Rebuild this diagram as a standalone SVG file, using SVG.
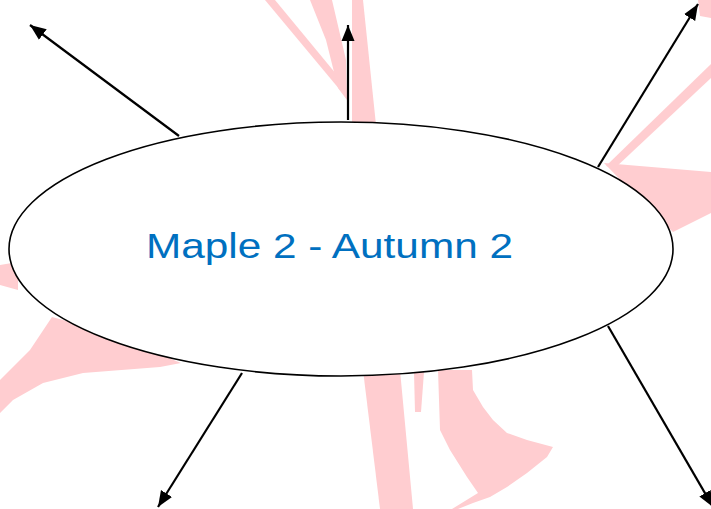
<svg xmlns="http://www.w3.org/2000/svg" width="711" height="509" viewBox="0 0 711 509">
<style>
.bg{fill:#FFCDD0;stroke:none}
.conn{stroke:#000;stroke-width:2.2;fill:none;marker-end:url(#ah)}
.node{fill:#fff;stroke:#000;stroke-width:1.6}
.lbl{font-family:"Liberation Sans","DejaVu Sans",sans-serif;font-size:35px;fill:#0070C0}
</style>
<defs>
<marker id="ah" markerUnits="userSpaceOnUse" markerWidth="17" markerHeight="14" viewBox="0 0 17 14" refX="16" refY="7" orient="auto">
<path d="M0,0.5 L16,7 L0,13.5 z" fill="#000"/>
</marker>
</defs>
<rect width="711" height="509" fill="#fff"/>
<g id="background">
<polygon class="bg" points="265,0 275,0 346,86 340,90"/>
<polygon class="bg" points="310,0 332,0 346,60 347,100 338,88 326,40"/>
<polygon class="bg" points="352,0 363,0 376,125 352,125"/>
<polygon class="bg" points="698,0 711,0 711,18 700,16"/>
<polygon class="bg" points="711,64 711,78 615,168 606,166"/>
<polygon class="bg" points="604,163 711,172 711,213 673,232 640,200"/>
<polygon class="bg" points="0,265 18,262 18,290 0,285"/>
<polygon class="bg" points="0,380 30,350 52,317 100,330 181,363 160,367 83,373 43,383 13,400 0,413"/>
<polygon class="bg" points="363,370 400,370 413,509 380,509"/>
<polygon class="bg" points="414,372 424,372 421,412 415,412"/>
<polygon class="bg" points="438,370 472,370 473,390 483,407 493,420 507,433 527,440 553,447 547,457 527,473 507,487 490,497 473,503 458,509 452,509 478,493 467,477 450,450 440,430"/>
</g>
<g id="connectors">
<line class="conn" x1="179" y1="136" x2="30" y2="25"/>
<line class="conn" x1="348" y1="120" x2="348" y2="25"/>
<line class="conn" x1="598" y1="167" x2="698" y2="4"/>
<line class="conn" x1="608" y1="326" x2="713" y2="507"/>
<line class="conn" x1="242" y1="373" x2="158" y2="507"/>
</g>
<g id="center">
<ellipse class="node" cx="341" cy="249" rx="332" ry="127"/>
<text class="lbl" x="146" y="258" textLength="367" lengthAdjust="spacingAndGlyphs">Maple 2 - Autumn 2</text>
</g>
</svg>
